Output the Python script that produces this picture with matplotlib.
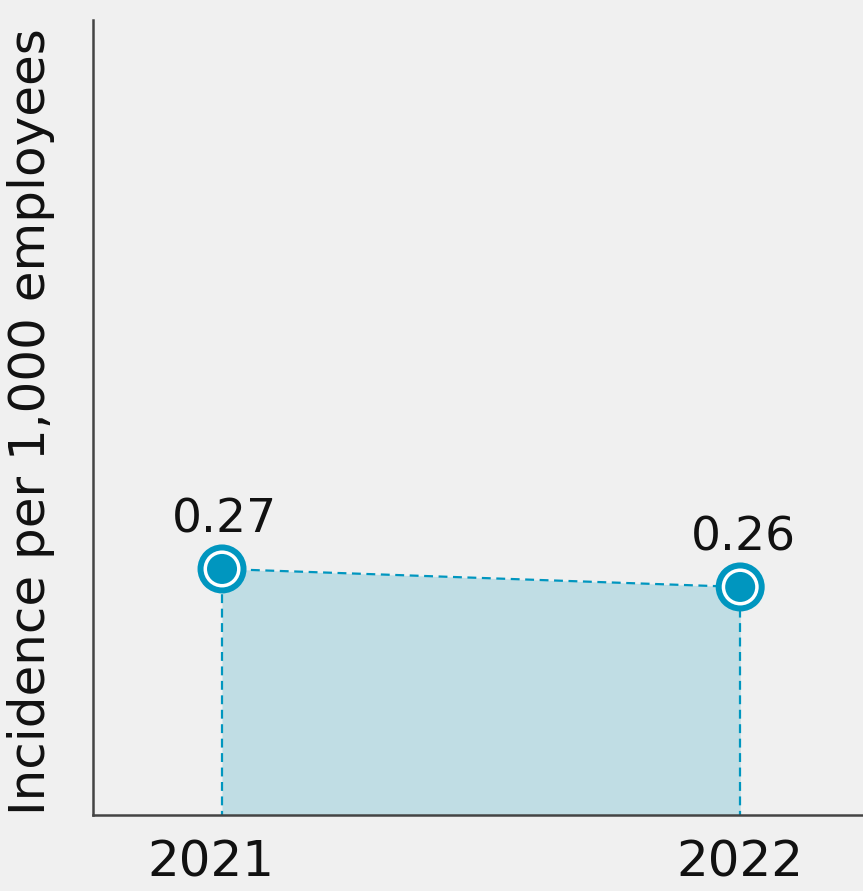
import matplotlib
matplotlib.use("Agg")
import matplotlib.pyplot as plt
from matplotlib.transforms import ScaledTranslation

years = [2021, 2022]
values = [0.27, 0.26]
value_labels = ["0.27", "0.26"]
tick_labels = ["2021", "2022"]
ylabel = "Incidence per 1,000 employees"

BLUE = "#0096BF"
FILL = "#C0DDE4"
BG = "#F0F0F0"

plt.rcParams['font.family'] = ['DejaVu Sans']

fig = plt.figure(figsize=(8.63, 8.91), dpi=100, facecolor=BG)
ax = fig.add_axes([93/863, 76/891, 1 - 93/863, (815-20)/891])
ax.set_facecolor(BG)

ax.fill_between(years, values, 0, color=FILL, linewidth=0, zorder=1)
ax.plot(years, values, color=BLUE, lw=1.6, ls=(0, (4, 2.5)), zorder=2)
for x, v in zip(years, values):
    ax.plot([x, x], [0, v], color=BLUE, lw=1.6, ls=(0, (4, 2.5)), zorder=2)

ax.scatter(years, values, s=1245, facecolor=BLUE, edgecolor="none", zorder=3)
ax.scatter(years, values, s=710, facecolor="white", edgecolor="none", zorder=4)
ax.scatter(years, values, s=467, facecolor=BLUE, edgecolor="none", zorder=5)

for x, v, lab in zip(years, values, value_labels):
    ax.annotate(lab, (x, v), xytext=(2, 26), textcoords="offset points",
                ha="center", va="baseline", fontsize=34, color="#111111")

ax.set_xlim(2020.751, 2022.237)
ax.set_ylim(0.1333, 0.575)
ax.set_xticks(years)
ax.set_xticklabels(tick_labels, fontsize=36, color="#111111")
ax.tick_params(axis="x", length=0, pad=17)
lbls = ax.get_xticklabels()
lbls[0].set_transform(lbls[0].get_transform() + ScaledTranslation(-8/72, 0, fig.dpi_scale_trans))
ax.set_yticks([])
ax.set_ylabel(ylabel, fontsize=36, color="#111111")
ax.yaxis.set_label_coords((55 - 93) / 770, (815 - 421.5) / 795)

for s in ["top", "right"]:
    ax.spines[s].set_visible(False)
for s in ["left", "bottom"]:
    ax.spines[s].set_color("#444444")
    ax.spines[s].set_linewidth(1.8)

fig.savefig("out.png", dpi=100, facecolor=BG)
